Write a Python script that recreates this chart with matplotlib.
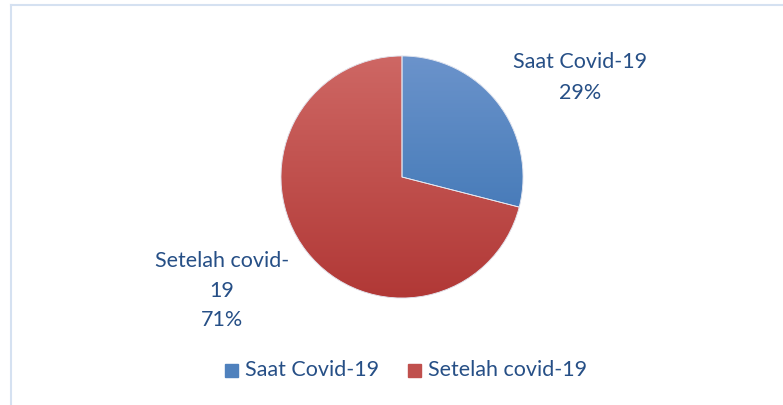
import matplotlib
matplotlib.use("Agg")
import matplotlib.pyplot as plt
import numpy as np
from matplotlib.colors import LinearSegmentedColormap
from matplotlib.patches import Rectangle

labels = ["Saat Covid-19", "Setelah covid-19"]
values = [29, 71]
top_colors = ["#6b93cb", "#ce6764"]
mid_colors = ["#4f81bd", "#c0504d"]
bot_colors = ["#376bb0", "#b13836"]
text_color = "#264f86"

plt.rcParams['font.family'] = ['Lato', 'DejaVu Sans']

fig = plt.figure(figsize=(7.83, 4.05), dpi=100)
ax = fig.add_axes([0, 0, 1, 1])
ax.set_xlim(0, 783)
ax.set_ylim(0, 405)
ax.axis("off")

# light chart border (top and left visible)
ax.plot([11, 783], [400, 400], color="#d5e1f1", lw=1.5)
ax.plot([11, 11], [0, 400], color="#d5e1f1", lw=1.5)

cx, cy, r = 402, 405 - 177, 121
wedges, _ = ax.pie(values, startangle=90, counterclock=False, center=(cx, cy),
                   radius=r, colors=mid_colors,
                   wedgeprops=dict(edgecolor="#e8e8f0", linewidth=0.6))
ax.set_xlim(0, 783)
ax.set_ylim(0, 405)
ax.set_aspect("auto")

grad = np.linspace(0, 1, 256).reshape(-1, 1)
for w, c0, c1, c2 in zip(wedges, top_colors, mid_colors, bot_colors):
    cmap = LinearSegmentedColormap.from_list("g", [c0, c1, c2])
    im = ax.imshow(grad, cmap=cmap, extent=(cx - r, cx + r, cy - r, cy + r),
                   origin="upper", aspect="auto", zorder=w.get_zorder() + 0.1)
    im.set_clip_path(w)
    w2 = matplotlib.patches.Wedge((cx, cy), r, w.theta1, w.theta2, fill=False,
                                  edgecolor="#e6e9f2", lw=0.6, zorder=w.get_zorder() + 0.2)
    ax.add_patch(w2)

fs = 15.5
ax.text(580, 405 - 62, "Saat Covid-19", ha="center", va="center", fontsize=fs, color=text_color)
ax.text(580, 405 - 93, "29%", ha="center", va="center", fontsize=fs, color=text_color)
ax.text(222, 405 - 261, "Setelah covid-", ha="center", va="center", fontsize=fs, color=text_color)
ax.text(222, 405 - 291, "19", ha="center", va="center", fontsize=fs, color=text_color)
ax.text(222, 405 - 320, "71%", ha="center", va="center", fontsize=fs, color=text_color)

# legend
leg_y = 405 - 370
for x0, lab, c in zip([225, 408], labels, mid_colors):
    ax.add_patch(Rectangle((x0, leg_y - 7), 13, 13, color=c))
    ax.text(x0 + 20, leg_y, lab, ha="left", va="center", fontsize=fs, color=text_color)

fig.savefig("out.png", dpi=100)
